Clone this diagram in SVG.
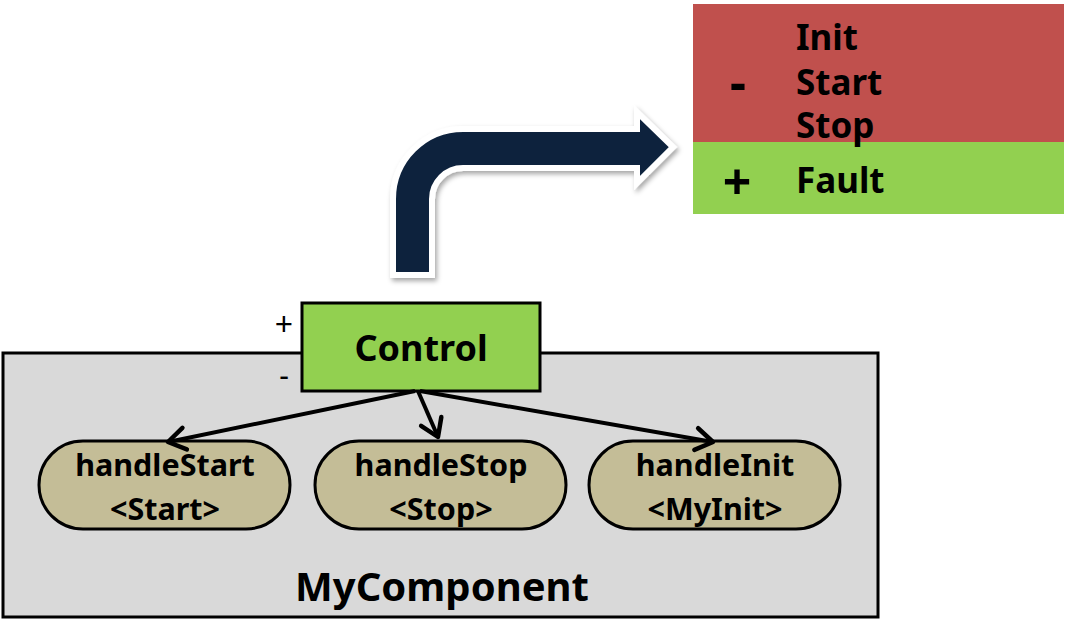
<svg xmlns="http://www.w3.org/2000/svg" width="1066" height="620" viewBox="0 0 1066 620">
<defs>
<style>
.t{font-family:"Noto Sans","Open Sans","DejaVu Sans",sans-serif;font-weight:bold;fill:#000}
.pill{fill:#c4bd97;stroke:#000;stroke-width:3}
.conn{stroke:#000;stroke-width:4;fill:none}
</style>
<marker id="ah" viewBox="0 0 30 30" refX="26" refY="15" markerWidth="30" markerHeight="30" orient="auto" markerUnits="userSpaceOnUse">
<path d="M9,4 L26,15 L9,26" fill="none" stroke="#000" stroke-width="4.5" stroke-linecap="round" stroke-linejoin="round"/>
</marker>
<filter id="sh" x="-20%" y="-20%" width="140%" height="140%">
<feDropShadow dx="2" dy="3" stdDeviation="2.5" flood-color="#000" flood-opacity="0.35"/>
</filter>
</defs>
<rect width="1066" height="620" fill="#fff"/>
<g id="table">
<rect x="693" y="4" width="371" height="138" fill="#c0504d"/>
<rect x="693" y="142" width="371" height="72" fill="#92d050"/>
<text class="t" x="796" y="50" font-size="35">Init</text>
<text class="t" x="796" y="95" font-size="35">Start</text>
<text class="t" x="796" y="138" font-size="35">Stop</text>
<text class="t" x="796" y="193" font-size="35">Fault</text>
<text class="t" x="738" y="100" font-size="50" text-anchor="middle">-</text>
<text class="t" x="737" y="200" font-size="50" text-anchor="middle">+</text>
</g>
<g id="bigArrow">
<path d="M393,275 L393,199 A70,70 0 0 1 463,129 L637,129 L637,112 L673,147 L637,183 L637,168 L463,168 A31,31 0 0 0 432,199 L432,275 Z" fill="#10243e" stroke="#fff" stroke-width="6" stroke-linejoin="miter" filter="url(#sh)"/>
</g>
<g id="MyComponent">
<rect x="3" y="353" width="875" height="264" fill="#d9d9d9" stroke="#000" stroke-width="3"/>
<text class="t" x="442" y="601" font-size="40" text-anchor="middle">MyComponent</text>
</g>
<g id="Control">
<rect x="302" y="303" width="238" height="88" fill="#92d050" stroke="#000" stroke-width="3"/>
<text class="t" x="421" y="361" font-size="36" text-anchor="middle">Control</text>
<text x="284" y="336" font-size="32" text-anchor="middle" font-family="Noto Sans, sans-serif">+</text>
<text x="284" y="386" font-size="30" text-anchor="middle" font-family="Noto Sans, sans-serif">-</text>
</g>
<g id="handleStart">
<rect class="pill" x="39" y="441" width="251" height="88" rx="44"/>
<text class="t" x="165" y="476" font-size="30.5" text-anchor="middle">handleStart</text>
<text class="t" x="165" y="520" font-size="30.5" text-anchor="middle">&lt;Start&gt;</text>
</g>
<g id="handleStop">
<rect class="pill" x="315" y="441" width="251" height="88" rx="44"/>
<text class="t" x="441" y="476" font-size="30.5" text-anchor="middle">handleStop</text>
<text class="t" x="441" y="520" font-size="30.5" text-anchor="middle">&lt;Stop&gt;</text>
</g>
<g id="handleInit">
<rect class="pill" x="589" y="441" width="251" height="88" rx="44"/>
<text class="t" x="715" y="476" font-size="30.5" text-anchor="middle">handleInit</text>
<text class="t" x="715" y="520" font-size="30.5" text-anchor="middle">&lt;MyInit&gt;</text>
</g>
<g id="connectors">
<line class="conn" x1="415" y1="391" x2="168" y2="442" marker-end="url(#ah)"/>
<line class="conn" x1="418" y1="391" x2="438" y2="437" marker-end="url(#ah)"/>
<line class="conn" x1="420" y1="391" x2="713" y2="442" marker-end="url(#ah)"/>
</g>
</svg>
